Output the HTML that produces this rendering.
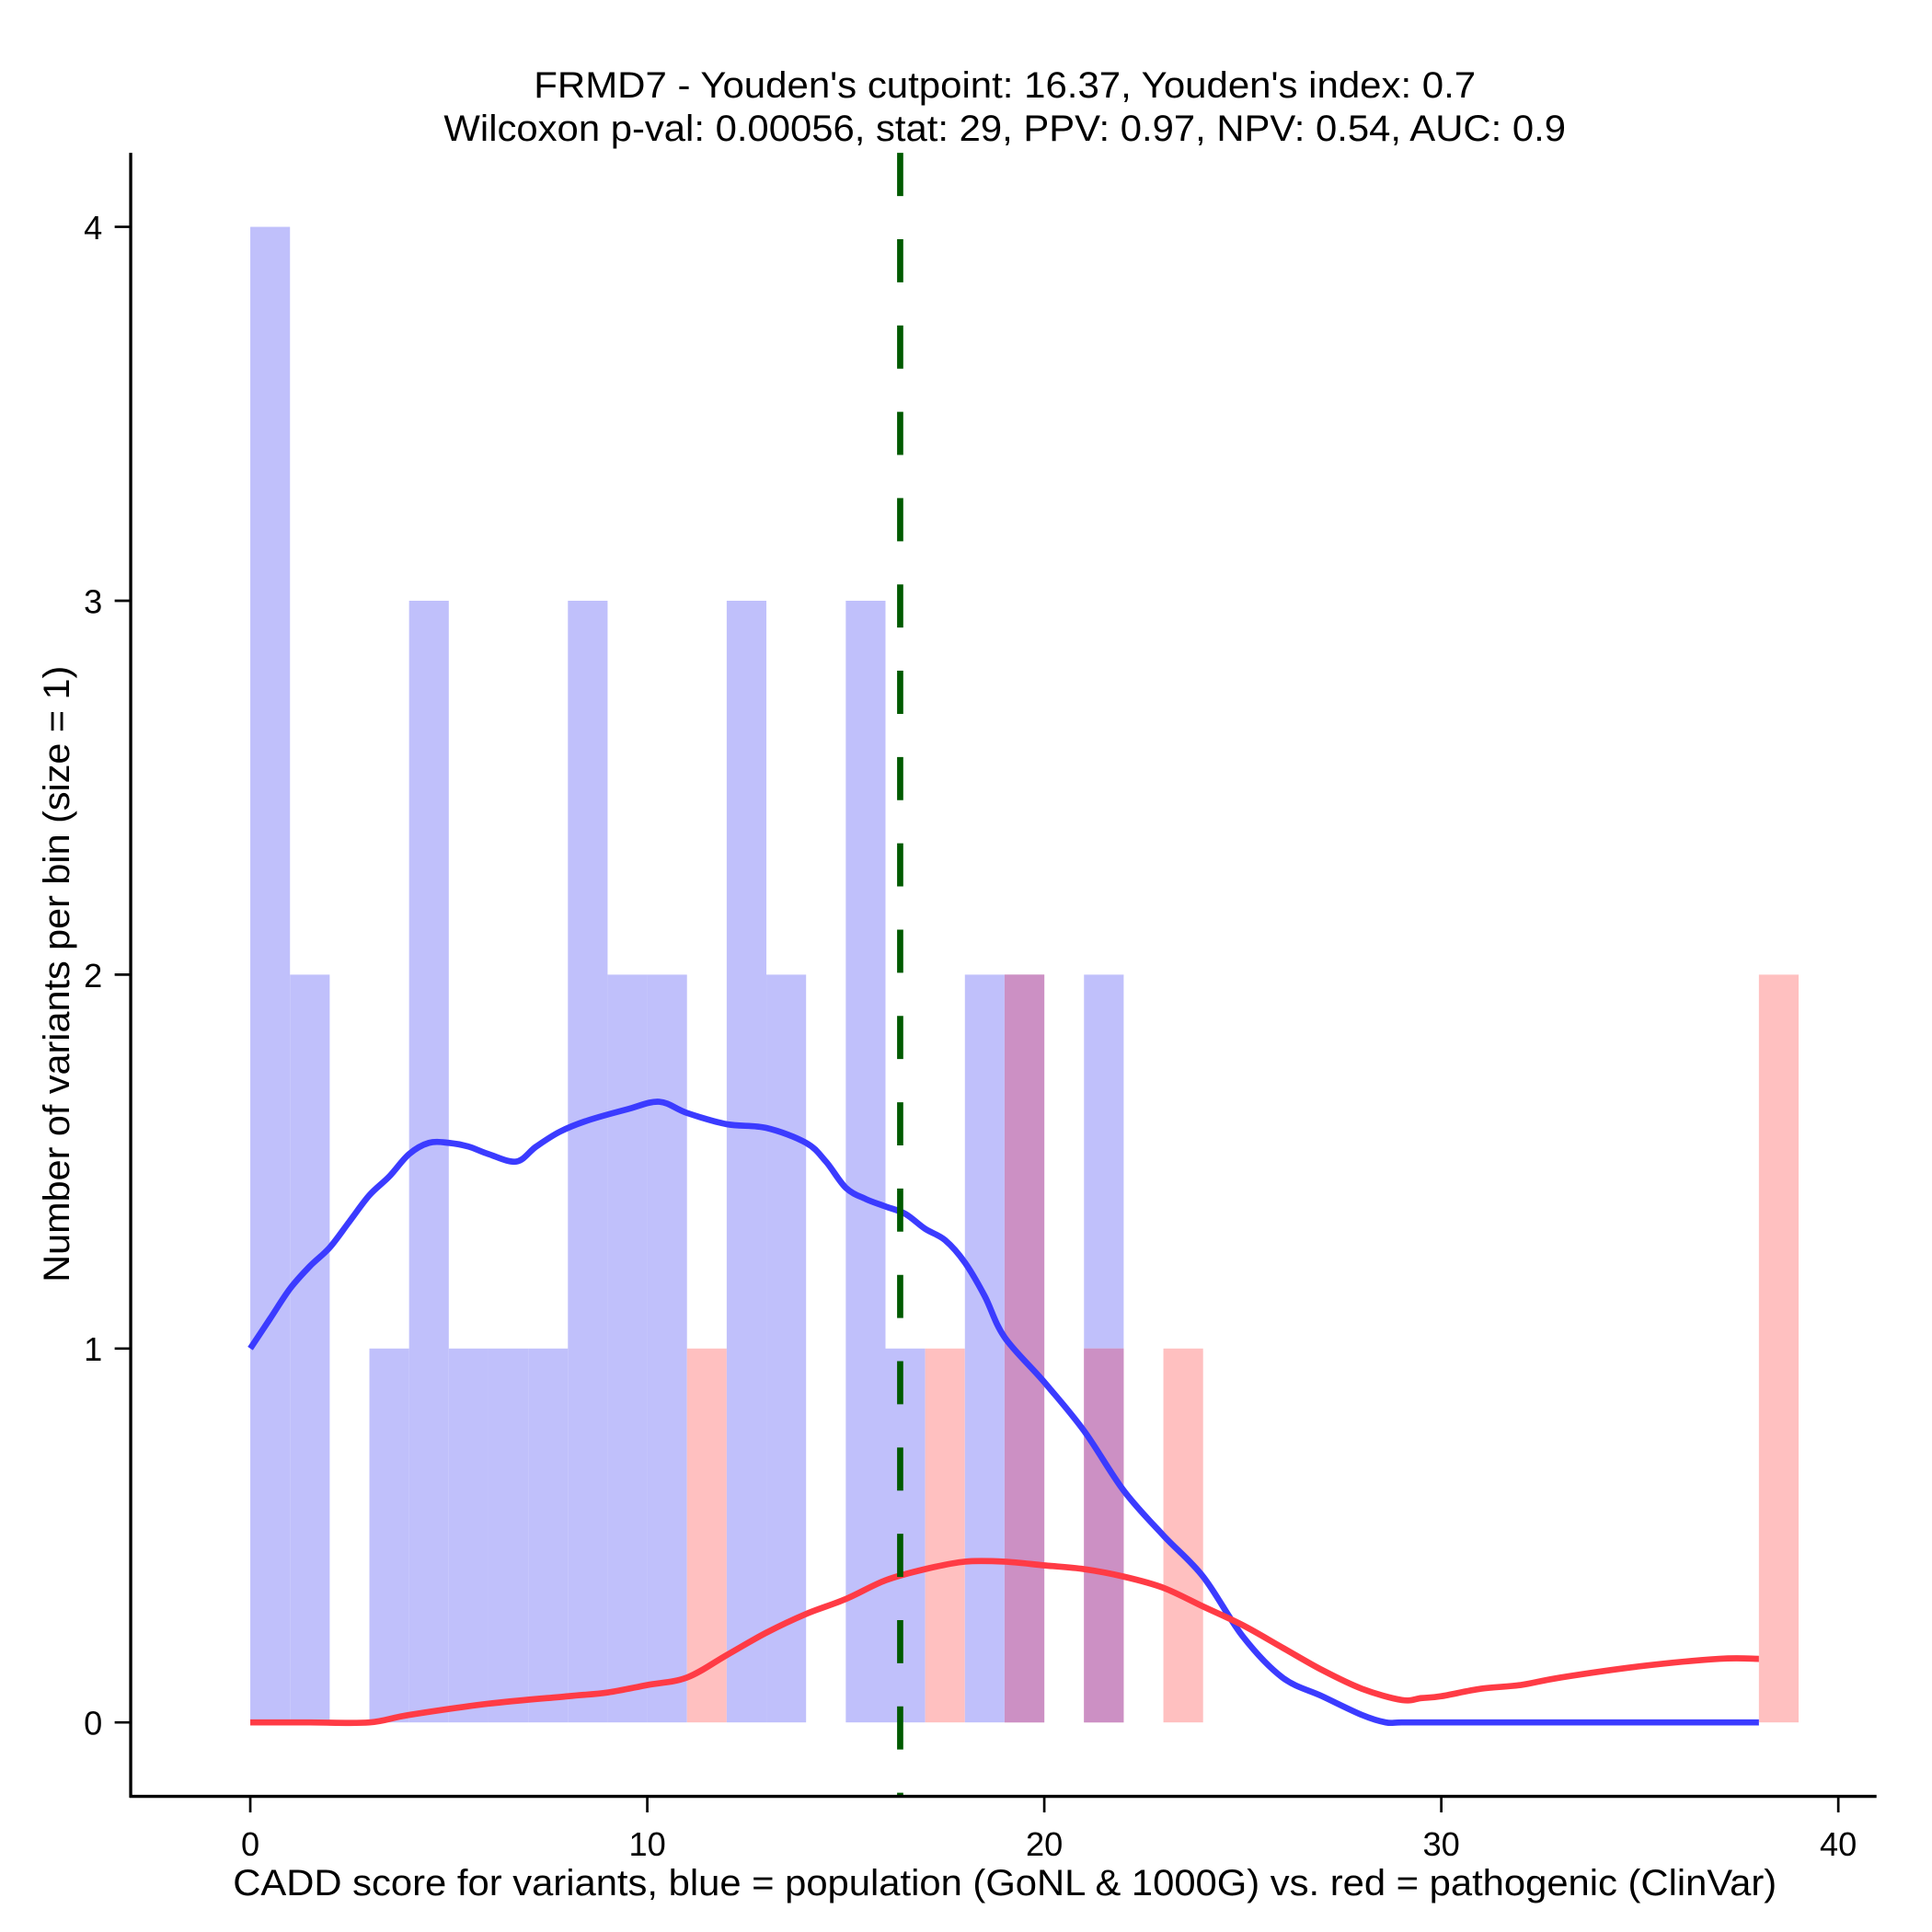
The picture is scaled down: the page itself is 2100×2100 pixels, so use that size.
<!DOCTYPE html>
<html><head><meta charset="utf-8"><style>html,body{margin:0;padding:0;background:#fff}svg{display:block}</style></head>
<body>
<svg id="chart" width="2100" height="2100" viewBox="0 0 1567 1567" xmlns="http://www.w3.org/2000/svg" font-family="'Liberation Sans', Arial, sans-serif">
<rect width="1567" height="1567" fill="#fff"/>
<g id="bars"></g>
<g id="curves"></g>
<g id="axes"></g>
<text x="815" y="79" font-size="30" text-anchor="middle" textLength="764" lengthAdjust="spacingAndGlyphs">FRMD7 - Youden's cutpoint: 16.37, Youden's index: 0.7</text>
<text x="815" y="114" font-size="30" text-anchor="middle" textLength="910" lengthAdjust="spacingAndGlyphs">Wilcoxon p-val: 0.00056, stat: 29, PPV: 0.97, NPV: 0.54, AUC: 0.9</text>
<text x="815" y="1537" font-size="30" text-anchor="middle" textLength="1252" lengthAdjust="spacingAndGlyphs">CADD score for variants, blue = population (GoNL &amp; 1000G) vs. red = pathogenic (ClinVar)</text>
<text x="0" y="0" font-size="30" text-anchor="middle" textLength="500" lengthAdjust="spacingAndGlyphs" transform="translate(56,790) rotate(-90)">Number of variants per bin (size = 1)</text>
</svg>
<script>
const binStarts = [0,1,2,3,4,5,6,7,8,9,10,11,12,13,14,15,16,17,18,19,20,21,22,23,24,38];
const blueCounts = [4,2,0,1,3,1,1,1,3,2,2,0,3,2,0,3,1,0,2,2,0,2,0,0,0,0];
const redCounts  = [0,0,0,0,0,0,0,0,0,0,0,1,0,0,0,0,0,1,0,2,0,1,0,1,0,2];
const blueX = [0,0.5,1,1.5,2,2.5,3,3.5,4,4.5,5,5.5,6,6.7,7.2,7.8,8.5,9.5,10.3,11,12,13,14,14.5,15,15.5,16,16.5,17,17.5,18,18.5,19,20,21,22,23,24,25,26,27,28,28.6,29,30,34,38];
const blueY = [1.0,1.08,1.16,1.22,1.27,1.34,1.41,1.46,1.52,1.55,1.55,1.54,1.52,1.5,1.54,1.58,1.61,1.64,1.66,1.63,1.6,1.59,1.55,1.5,1.43,1.4,1.38,1.36,1.32,1.29,1.23,1.14,1.03,0.91,0.78,0.62,0.5,0.39,0.23,0.12,0.07,0.02,0,0,0,0,0];
const redX = [0,1.5,3,4,6,8,9,10,11,12,13,14,15,16,17,18,19,20,21,22,23,24,25,26,27,28,29,29.5,30,31,32,33,35,37,38];
const redY = [0,0,0,0.02,0.05,0.07,0.08,0.1,0.12,0.18,0.24,0.29,0.33,0.38,0.41,0.43,0.43,0.42,0.41,0.39,0.36,0.31,0.26,0.2,0.14,0.09,0.06,0.065,0.07,0.09,0.1,0.12,0.15,0.17,0.17];
const xTicks = [0,10,20,30,40];
const yTicks = [0,1,2,3,4];
const cutpoint = 16.37;

const NS = 'http://www.w3.org/2000/svg';
const X = v => 203 + v * (1491 - 203) / 40;
const Y = v => 1397 - v * (1397 - 184) / 4;
function mk(parent, tag, attrs){const e=document.createElementNS(NS,tag);for(const k in attrs)e.setAttribute(k,attrs[k]);parent.appendChild(e);return e;}
function smooth(xs, ys){
  const p = xs.map((x,i)=>[X(x),Y(ys[i])]);
  let d = 'M'+p[0][0]+','+p[0][1];
  for(let i=0;i<p.length-1;i++){
    const p0=p[Math.max(i-1,0)], p1=p[i], p2=p[i+1], p3=p[Math.min(i+2,p.length-1)];
    const c1=[p1[0]+(p2[0]-p0[0])/6, p1[1]+(p2[1]-p0[1])/6];
    const c2=[p2[0]-(p3[0]-p1[0])/6, p2[1]-(p3[1]-p1[1])/6];
    d+=' C'+c1[0]+','+c1[1]+' '+c2[0]+','+c2[1]+' '+p2[0]+','+p2[1];
  }
  return d;
}
const bars = document.getElementById('bars');
binStarts.forEach((b,i)=>{
  const w = X(b+1)-X(b);
  if(blueCounts[i]>0){
    const r = mk(bars,'rect',{x:X(b),y:Y(blueCounts[i]),width:w,height:Y(0)-Y(blueCounts[i]),fill:'#c0c0fb'});
    
    
  }
  if(redCounts[i]>0){
    const r = mk(bars,'rect',{x:X(b),y:Y(redCounts[i]),width:w,height:Y(0)-Y(redCounts[i]),fill:'#ffc0c0'});
    
    
  }
  const ov = Math.min(blueCounts[i], redCounts[i]);
  if(ov>0){
    const r = mk(bars,'rect',{x:X(b),y:Y(ov),width:w,height:Y(0)-Y(ov),fill:'#cc90c4'});
    
    
  }
});
const curves = document.getElementById('curves');
const bp = mk(curves,'path',{d:smooth(blueX,blueY),fill:'none',stroke:'#3b3bff',"stroke-width":5,"stroke-linejoin":'round'});


const rp = mk(curves,'path',{d:smooth(redX,redY),fill:'none',stroke:'#ff3b45',"stroke-width":5,"stroke-linejoin":'round'});


const cl = mk(curves,'line',{x1:X(cutpoint),x2:X(cutpoint),y1:124,y2:1457,stroke:'#005a00',"stroke-width":5,"stroke-dasharray":'35 35'});


const axes = document.getElementById('axes');
const xa = mk(axes,'line',{x1:105,x2:1522,y1:1457,y2:1457,stroke:'#000','stroke-width':2.5});


const ya = mk(axes,'line',{x1:106,x2:106,y1:124,y2:1458,stroke:'#000','stroke-width':2.5});


xTicks.forEach(t=>{
  const l = mk(axes,'line',{x1:X(t),x2:X(t),y1:1457,y2:1470,stroke:'#000','stroke-width':2});
  
  
  const tx = mk(axes,'text',{x:X(t),y:1505,'font-size':27,'text-anchor':'middle'});
  tx.textContent = t;
  
  
});
yTicks.forEach(t=>{
  const l = mk(axes,'line',{x1:93,x2:106,y1:Y(t),y2:Y(t),stroke:'#000','stroke-width':2});
  
  
  const tx = mk(axes,'text',{x:83,y:Y(t)+10,'font-size':27,'text-anchor':'end'});
  tx.textContent = t;
  
  
});
</script>
</body></html>
